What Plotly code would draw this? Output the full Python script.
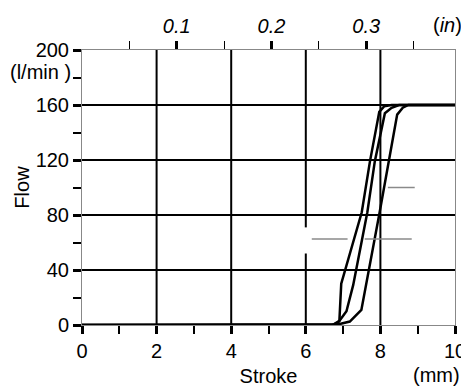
import plotly.graph_objects as go

# ---- data ----
stroke_a = [0, 6.6, 6.75, 6.9, 6.95, 7.5, 7.72, 7.97, 8.1, 8.3, 10]
flow_a   = [0, 0, 0.5, 3, 30, 82, 119, 155, 159, 160, 160]
stroke_b = [0, 6.7, 6.86, 7.09, 7.27, 7.65, 7.85, 8.12, 8.3, 8.5, 10]
flow_b   = [0, 0, 1.5, 10, 29, 82, 119, 154, 158, 160, 160]
stroke_c = [0, 6.8, 7.18, 7.49, 7.98, 8.22, 8.45, 8.6, 8.75, 10]
flow_c   = [0, 0, 2.5, 11, 82, 119, 153, 158, 160, 160]

x_ticks = [0, 2, 4, 6, 8, 10]
y_ticks = [0, 40, 80, 120, 160, 200]
in_ticks = [0.1, 0.2, 0.3]
in_labels = ["0.1", "0.2", "0.3"]

# gray leader lines (x0, x1, y) in data units
leaders = [(8.2, 8.92, 100), (6.16, 7.12, 62.5), (7.58, 8.84, 62.5)]

FONT = "Liberation Sans, Arial, sans-serif"
FS = 20

fig = go.Figure()
for xs, ys in [(stroke_a, flow_a), (stroke_b, flow_b), (stroke_c, flow_c)]:
    fig.add_trace(go.Scatter(x=xs, y=ys, mode="lines",
                             line=dict(color="black", width=2.5),
                             showlegend=False, hoverinfo="skip"))

# invisible trace for top axis
fig.add_trace(go.Scatter(x=[0, 10 / 25.4], y=[0, 0], xaxis="x2", mode="lines",
                         line=dict(width=0), showlegend=False, hoverinfo="skip"))

# interior grid lines
for v in x_ticks[1:-1]:
    fig.add_shape(type="line", x0=v, x1=v, y0=0, y1=1, xref="x", yref="paper",
                  line=dict(color="black", width=2), layer="below")
for v in y_ticks[1:-1]:
    fig.add_shape(type="line", x0=0, x1=1, y0=v, y1=v, xref="paper", yref="y",
                  line=dict(color="black", width=2), layer="below")
# white gap in grid line at x=6 (label background remnant)
fig.add_shape(type="line", x0=6, x1=6, y0=52, y1=71, xref="x", yref="y",
              line=dict(color="white", width=4), layer="below")

for x0, x1, y in leaders:
    fig.add_shape(type="line", x0=x0, x1=x1, y0=y, y1=y, xref="x", yref="y",
                  line=dict(color="#8a8a8a", width=1.5), layer="above")

# page body has an 8px margin; compensate so the plot area lands where it should
fig.update_layout(
    width=461, height=379,
    margin=dict(l=74, r=14, t=42, b=62),
    paper_bgcolor="white", plot_bgcolor="white",
    font=dict(family=FONT, size=FS, color="black"),
    xaxis=dict(range=[0, 10], tickvals=x_ticks, ticks="outside", ticklen=8,
               tickwidth=3, tickcolor="black", automargin=False,
               minor=dict(dtick=1, ticks="outside", ticklen=8, tickwidth=1.5,
                          tickcolor="black", showgrid=False),
               showgrid=False,
               showline=True, linecolor="#888", linewidth=1, mirror=True,
               zeroline=False, tickfont=dict(size=FS),
               title=dict(text="Stroke", standoff=9, font=dict(size=FS))),
    xaxis2=dict(range=[0, 10 / 25.4], overlaying="x", side="top",
                tickvals=in_ticks, ticktext=["<i>%s</i>" % t for t in in_labels],
                ticks="outside", ticklen=8, tickwidth=3, tickcolor="black",
                automargin=False,
                minor=dict(tickvals=[0.05, 0.15, 0.25, 0.35], ticks="outside",
                           ticklen=8, tickwidth=1, tickcolor="black", showgrid=False),
                showgrid=False, showline=False, zeroline=False,
                tickfont=dict(size=FS)),
    yaxis=dict(range=[0, 200], tickvals=y_ticks, ticks="outside", ticklen=8,
               tickwidth=3, tickcolor="black", automargin=False,
               minor=dict(dtick=20, ticks="outside", ticklen=8, tickwidth=1.5,
                          tickcolor="black", showgrid=False),
               showgrid=False,
               showline=True, linecolor="#888", linewidth=1, mirror=True,
               zeroline=False, tickfont=dict(size=FS),
               title=dict(text="Flow", standoff=0, font=dict(size=FS))),
)

fig.add_annotation(x=1, y=1, xref="paper", yref="paper", xanchor="right",
                   yanchor="bottom", yshift=12, xshift=9, text="(<i>in</i>)",
                   showarrow=False, font=dict(size=FS))
fig.add_annotation(x=1, y=0, xref="paper", yref="paper", xanchor="right",
                   yanchor="top", yshift=-37, xshift=7, text="(mm)",
                   showarrow=False, font=dict(size=FS))
fig.add_annotation(x=0, y=180, xref="paper", yref="y", xanchor="right",
                   yanchor="middle", xshift=-9, yshift=6, text="(l/min )",
                   showarrow=False, font=dict(size=FS))

fig.write_html("out.html")
